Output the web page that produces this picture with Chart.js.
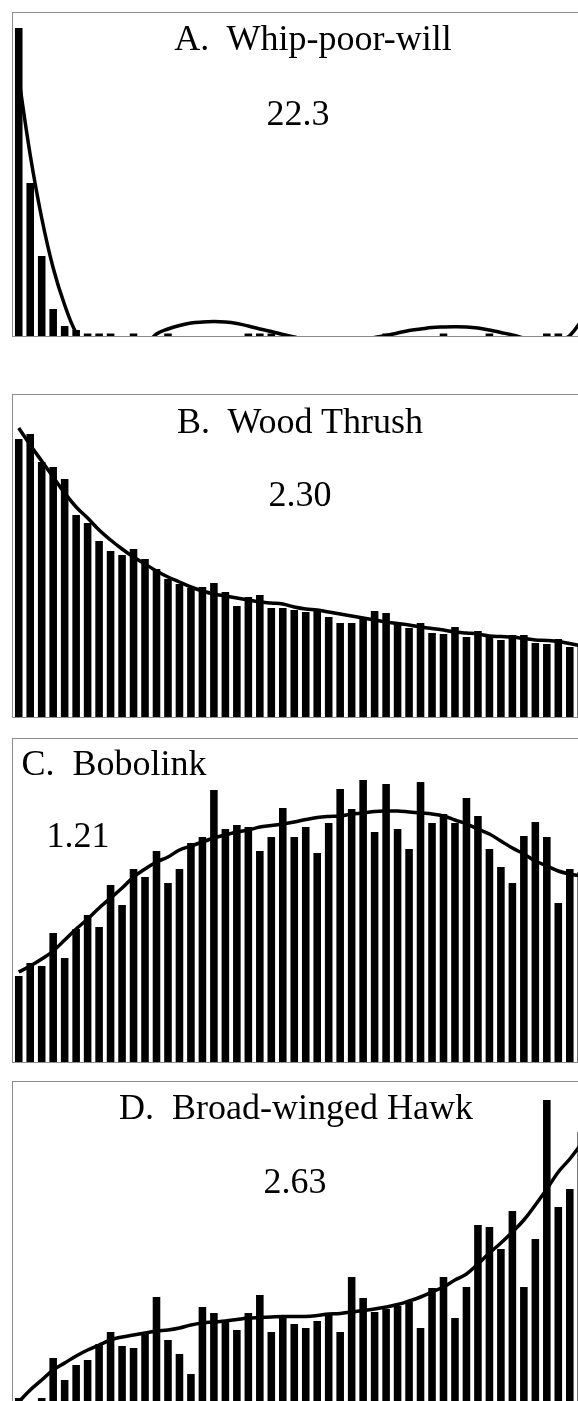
<!DOCTYPE html>
<html>
<head>
<meta charset="utf-8">
<title>Trend panels</title>
<script src="https://cdn.jsdelivr.net/npm/chart.js@4.4.0/dist/chart.umd.min.js"></script>
<style>
    html, body { margin: 0; padding: 0; background: #fff; overflow: hidden; width: 578px; height: 1401px; }
    .panel { position: absolute; left: 12px; width: 620px; border: 1px solid #8c8c8c; border-right: none; box-sizing: border-box; }
    .panel canvas { position: absolute; left: 0; top: 0; }
    .label { position: absolute; width: 600px; text-align: center; white-space: pre; color: #000;
             font-family: 'Liberation Serif', 'Times New Roman', serif; font-size: 36px; line-height: 36px; }
</style>
</head>
<body>

<div class="panel" id="panelA"><canvas id="chartA"></canvas></div>
<div class="panel" id="panelB"><canvas id="chartB"></canvas></div>
<div class="panel" id="panelC"><canvas id="chartC"></canvas></div>
<div class="panel" id="panelD"><canvas id="chartD"></canvas></div>

<script>
// 50 yearly categories, same for every panel
const years = Array.from({ length: 50 }, (_, i) => String(i + 1));

// A. Whip-poor-will
const whipBars = [308, 153, 80, 27, 10, 6, 2.5, 2.5, 2.5, 0, 2.5, 0, 0, 2.5, 0, 0, 0, 0, 0, 0,
    2.5, 2.5, 2.5, 0, 0, 0, 0, 0, 0, 0, 0, 0, 2.5, 0, 0, 0, 0, 2.5, 0, 0,
    0, 2.5, 0, 0, 0, 0, 2.5, 2.5, 0, 0];
const whipTrend = [258, 181, 118, 68, 31, 3, -12, -20, -24, -24, -18, -10, 2, 7, 10.5, 13, 14, 14.4, 14, 12.5,
    10, 7, 4.5, 1.5, -1, -4, -6, -7, -7, -6, -4, -1.5, 0.5, 3, 5.5, 7, 8.5, 9, 9.2, 9,
    8, 6, 3.5, 1, -2, -5, -6, -5, 0.5, 15];

// B. Wood Thrush
const thrushBars = [278, 283, 255, 250, 238, 202, 194, 176, 166, 162, 168, 158, 148, 138, 133, 129, 130, 134, 125, 111,
    120, 122, 109, 109, 107, 105, 107, 100, 94, 94, 99, 106, 104, 94, 89, 94, 84, 83, 90, 80,
    86, 81, 77, 82, 82, 74, 73, 78, 70, 70];
const thrushTrend = [289, 272, 256, 240, 224, 210, 199, 187, 177, 168, 160, 153, 146, 140, 135, 130, 126, 123, 121, 119,
    117, 115, 114, 113, 110, 108, 107, 105, 103, 101, 99, 97, 95, 93.5, 92, 90, 88.5, 87, 85, 84,
    83, 81, 80.5, 80, 78.5, 77, 76.5, 75.5, 73.5, 71];

// C. Bobolink
const bobolinkBars = [86, 99, 96, 129, 104, 133, 147, 135, 177, 157, 193, 185, 211, 179, 193, 219, 225, 272, 233, 237,
    235, 211, 225, 254, 225, 235, 209, 239, 273, 253, 282, 230, 278, 233, 213, 280, 239, 248, 239, 264,
    246, 213, 195, 179, 226, 240, 225, 159, 193, 190];
const bobolinkTrend = [90, 96, 103, 111, 122, 133, 143, 154, 164, 174, 185, 193, 200, 205, 212, 216, 220, 224, 227, 230,
    232, 235, 236.5, 238, 240, 242.5, 244.5, 245.5, 246, 248, 249, 250.5, 251, 251, 250, 249, 248, 246, 242, 238,
    233, 228, 221, 214, 208, 201, 196, 191, 188, 186];

// D. Broad-winged Hawk
const hawkBars = [6, 0, 6, 46, 24, 39, 44, 60, 72, 58, 56, 72, 107, 64, 50, 30, 97, 91, 83, 74,
    91, 109, 72, 89, 80, 76, 83, 91, 72, 127, 106, 92, 95, 98, 102, 76, 116, 127, 86, 117,
    179, 177, 155, 193, 117, 165, 304, 197, 215, 272];
const hawkTrend = [2, 14, 24, 34, 41, 48, 54, 59, 64, 67, 69, 71, 73, 74, 76, 79, 81, 82, 83, 84.5,
    86, 86.5, 87, 87.5, 87.5, 87.5, 88.5, 90, 90.5, 92, 93.5, 95, 97, 99.5, 103, 107, 112, 117, 124, 130,
    140, 151, 161, 172, 184, 199, 215, 232, 245, 260];

const titles = ['A.  Whip-poor-will', 'B.  Wood Thrush', 'C.  Bobolink', 'D.  Broad-winged Hawk'];
const ratios = ['22.3', '2.30', '1.21', '2.63'];

// panel layout: box top, plot height, title / ratio positions (center x, baseline y)
const panels = [
    { id: 'A', top: 12, height: 323, bars: whipBars, trend: whipTrend, title: [313, 50], ratio: [298, 125] },
    { id: 'B', top: 394, height: 322, bars: thrushBars, trend: thrushTrend, title: [300, 433], ratio: [300, 506] },
    { id: 'C', top: 738, height: 323, bars: bobolinkBars, trend: bobolinkTrend, title: [114, 775], ratio: [78, 847] },
    { id: 'D', top: 1081, height: 322, bars: hawkBars, trend: hawkTrend, title: [296, 1119], ratio: [295, 1193] }
];

// put a text label with its baseline at y and centered on x
function addLabel(text, x, y) {
    const div = document.createElement('div');
    div.className = 'label';
    div.textContent = text;
    div.style.left = (x - 300) + 'px';
    div.style.top = (y - 30) + 'px';
    document.body.appendChild(div);
}

function makeChart(p) {
    const box = document.getElementById('panel' + p.id);
    box.style.top = p.top + 'px';
    box.style.height = (p.height + 2) + 'px';

    const canvas = document.getElementById('chart' + p.id);
    canvas.width = 574;
    canvas.height = p.height;

    new Chart(canvas, {
        type: 'bar',
        data: {
            labels: years,
            datasets: [
                {
                    type: 'line',
                    data: p.trend,
                    borderColor: '#000',
                    borderWidth: 3.5,
                    pointRadius: 0,
                    tension: 0.4,
                    fill: false
                },
                {
                    type: 'bar',
                    data: p.bars,
                    backgroundColor: '#000',
                    borderWidth: 0,
                    barPercentage: 0.66,
                    categoryPercentage: 1
                }
            ]
        },
        options: {
            responsive: false,
            animation: false,
            layout: { padding: 0 },
            plugins: { legend: { display: false }, tooltip: { enabled: false } },
            scales: {
                x: { display: false, offset: true },
                y: { display: false, min: 0, max: p.height }
            }
        }
    });
}

panels.forEach((p, i) => {
    makeChart(p);
    addLabel(titles[i], p.title[0], p.title[1]);
    addLabel(ratios[i], p.ratio[0], p.ratio[1]);
});
</script>
</body>
</html>
